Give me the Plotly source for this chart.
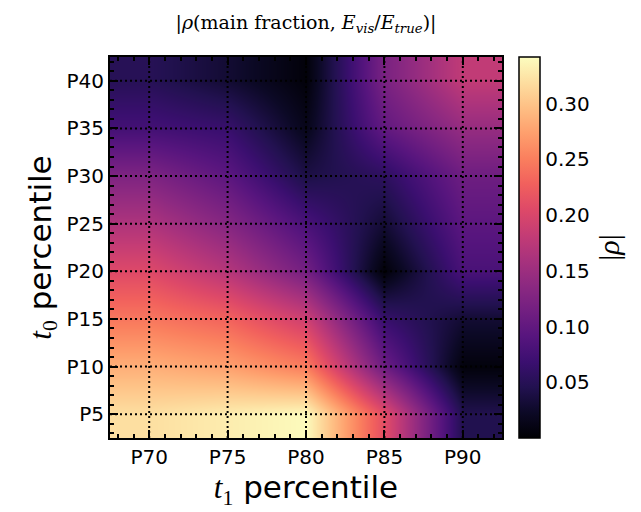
import plotly.graph_objects as go

# ---- data ----
t1_percentiles = [70, 75, 80, 85, 90]
t0_percentiles = [5, 10, 15, 20, 25, 30, 35, 40]
x_tick_labels = ["P70", "P75", "P80", "P85", "P90"]
y_tick_labels = ["P5", "P10", "P15", "P20", "P25", "P30", "P35", "P40"]

# |rho| per t0 row (P5 .. P40), columns t1 = P70 .. P90
rho_p5 = [0.320, 0.330, 0.340, 0.210, 0.045]
rho_p10 = [0.285, 0.275, 0.250, 0.110, 0.005]
rho_p15 = [0.245, 0.230, 0.190, 0.065, 0.030]
rho_p20 = [0.205, 0.170, 0.115, 0.003, 0.080]
rho_p25 = [0.165, 0.130, 0.080, 0.030, 0.095]
rho_p30 = [0.125, 0.095, 0.040, 0.055, 0.110]
rho_p35 = [0.075, 0.065, 0.015, 0.100, 0.145]
rho_p40 = [0.050, 0.030, 0.004, 0.120, 0.180]
z = [rho_p5, rho_p10, rho_p15, rho_p20, rho_p25, rho_p30, rho_p35, rho_p40]

cbar_ticks = [0.05, 0.10, 0.15, 0.20, 0.25, 0.30]
z_min, z_max = 0.0, 0.342

magma = ["#000004", "#0c0926", "#221150", "#3b0f70", "#57157e", "#721f81",
         "#8c2981", "#a8327d", "#c43c75", "#de4968", "#f1605d", "#fa7f5e",
         "#fe9f6d", "#febf84", "#fddea0", "#fcfdbf"]
colorscale = [[i / (len(magma) - 1), c] for i, c in enumerate(magma)]

# ---- layout geometry (page body has an 8px margin) ----
OFF = 8
W, H = 641 - OFF, 512 - OFF
plot_l, plot_t, plot_w, plot_h = 110 - OFF, 57 - OFF, 392, 381
ml, mt = plot_l, plot_t
mr = 12
mb = H - mt - plot_h
pw = W - ml - mr
x_dom_end = plot_w / pw
cb_thick = 21
cb_left = (519 - OFF - ml) / pw
cb_right = (519 - OFF + cb_thick - ml) / pw

SERIF = "DejaVu Serif"
SANS = "DejaVu Sans"

fig = go.Figure()
fig.add_trace(go.Heatmap(
    x=t1_percentiles, y=t0_percentiles, z=z,
    zsmooth="best", colorscale=colorscale, zmin=z_min, zmax=z_max,
    hoverinfo="skip",
    colorbar=dict(
        x=cb_left, xanchor="left", xpad=0, y=0.5, yanchor="middle",
        len=1, lenmode="fraction", thickness=cb_thick, ypad=0,
        outlinewidth=1.5, outlinecolor="black",
        tickmode="array", tickvals=cbar_ticks,
        ticktext=[f"{v:.2f}" for v in cbar_ticks],
        ticks="", tickfont=dict(family=SANS, size=20, color="black"),
        title=dict(text="|<i>ρ</i>|", side="right",
                   font=dict(family="Liberation Serif", size=30, color="black")),
    ),
))
# invisible trace holding the colorbar tick axis
fig.add_trace(go.Scatter(x=[None], y=[None], xaxis="x", yaxis="y2",
                         showlegend=False, hoverinfo="skip"))

# dotted grid lines drawn above the image
for v in t1_percentiles:
    fig.add_shape(type="line", xref="x", yref="y domain", x0=v, x1=v, y0=0, y1=1,
                  line=dict(color="black", width=2, dash="2px,3px"), layer="above")
for v in t0_percentiles:
    fig.add_shape(type="line", xref="x domain", yref="y", x0=0, x1=1, y0=v, y1=v,
                  line=dict(color="black", width=2, dash="2px,3px"), layer="above")

axis_common = dict(
    showline=True, linewidth=2, linecolor="black", mirror="ticks",
    ticks="inside", ticklen=8, tickwidth=1.5, tickcolor="black",
    showgrid=False, zeroline=False, layer="above traces", automargin=False,
    tickfont=dict(family=SANS, size=20, color="black"),
    minor=dict(ticks="inside", ticklen=4, tickwidth=1.5, tickcolor="black",
               tickmode="linear", dtick=1, showgrid=False),
)

fig.update_layout(
    width=W, height=H,
    margin=dict(l=ml, r=mr, t=mt, b=mb, autoexpand=False),
    paper_bgcolor="white", plot_bgcolor="white",
    title=dict(
        text="|<i>ρ</i>(main fraction, <i>E</i><sub><i>vis</i></sub>/<i>E</i><sub><i>true</i></sub>)|",
        font=dict(family=SERIF, size=19, color="black"),
        x=x_dom_end / 2, xref="paper", xanchor="center",
        y=1 - (22 - OFF) / H, yref="container", yanchor="middle",
    ),
    xaxis=dict(
        axis_common, domain=[0, x_dom_end], range=[67.5, 92.5],
        tickmode="array", tickvals=t1_percentiles, ticktext=x_tick_labels,
        title=dict(text='<span style="font-family:Liberation Serif"><i>t</i><sub>1</sub></span> percentile',
                   font=dict(family=SANS, size=31, color="black"), standoff=0),
    ),
    yaxis=dict(
        axis_common, domain=[0, 1], range=[2.5, 42.5],
        tickmode="array", tickvals=t0_percentiles, ticktext=y_tick_labels,
        title=dict(text='<span style="font-family:Liberation Serif"><i>t</i><sub>0</sub></span> percentile',
                   font=dict(family=SANS, size=31, color="black"), standoff=6),
    ),
    yaxis2=dict(
        overlaying="y", anchor="free", position=cb_right, side="right",
        range=[z_min, z_max], showgrid=False, zeroline=False, showline=False,
        showticklabels=False, ticks="inside", ticklen=7, tickwidth=1.5,
        tickcolor="black", tickmode="array", tickvals=cbar_ticks,
        minor=dict(ticks="inside", ticklen=4, tickwidth=1.2, tickcolor="black",
                   tickmode="linear", tick0=0, dtick=0.01),
        layer="above traces", fixedrange=True, automargin=False,
    ),
)

fig.write_html("out.html")
